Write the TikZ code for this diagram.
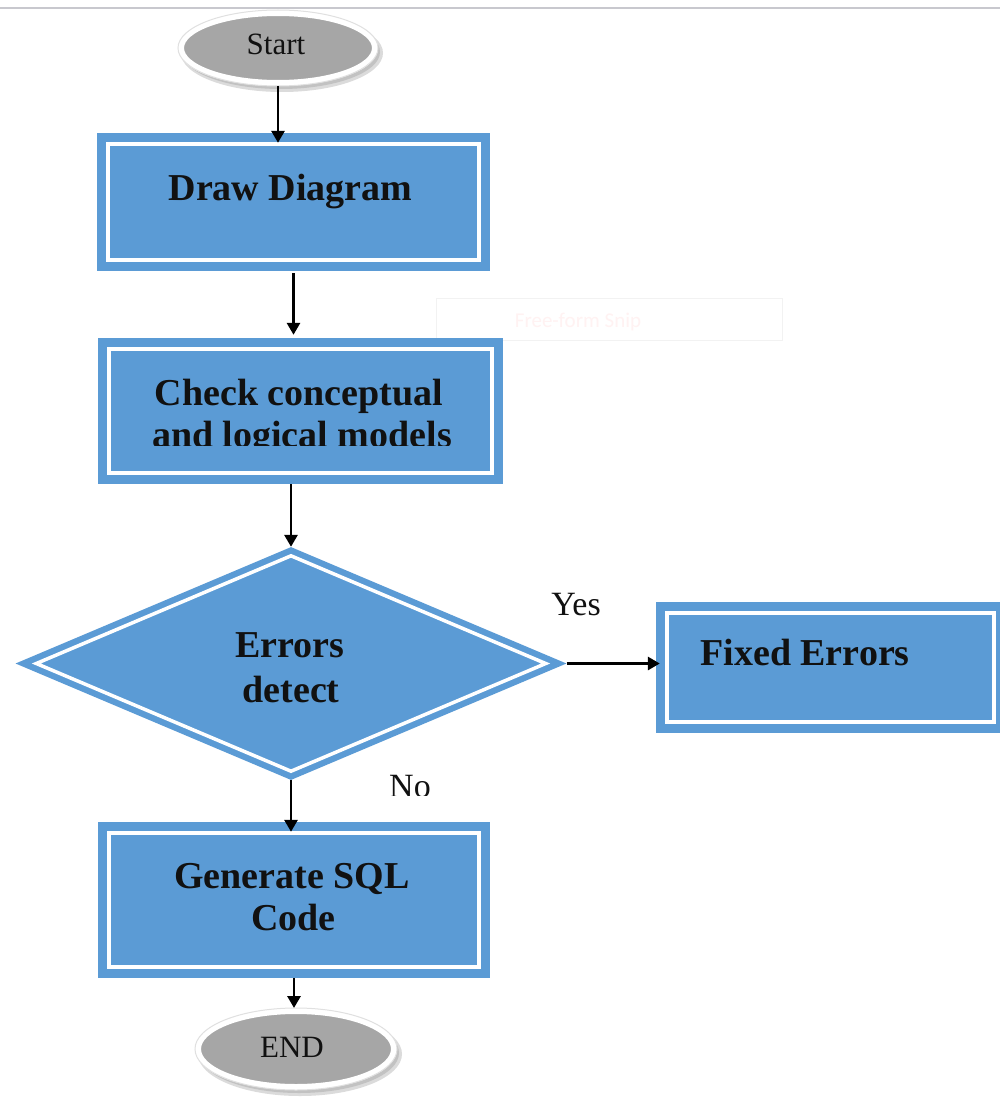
\documentclass[tikz,border=0pt]{standalone}
\usepackage{fontspec}
\setmainfont{Liberation Serif}
\newfontfamily\snipfont{Carlito}
\usetikzlibrary{shapes.geometric,arrows.meta}
\definecolor{boxblue}{HTML}{5B9BD5}
\definecolor{ovalgrey}{HTML}{A6A6A6}
\definecolor{inkc}{HTML}{111111}
\definecolor{topline}{HTML}{C8C8CE}
\begin{document}
\begin{tikzpicture}[x=1pt,y=-1pt,
  boxst/.style={rectangle, fill=boxblue, draw=none, inner sep=0pt,
    path picture={\draw[white,line width=3.5pt]
      ([shift={(11pt,-11pt)}]path picture bounding box.north west) rectangle
      ([shift={(-11pt,11pt)}]path picture bounding box.south east);}},
  ovalst/.style={ellipse, fill=ovalgrey, draw=white, line width=6pt, inner sep=0pt},
  shadowst/.style={fill=black!14},
  shadowst2/.style={fill=black!24},
  rimst/.style={draw=black!12, line width=1pt},
  btext/.style={anchor=base, font=\fontsize{38}{42}\selectfont\bfseries, text=inkc, inner sep=0pt},
  rtext/.style={anchor=base, font=\fontsize{34}{38}\selectfont, text=inkc, inner sep=0pt},
  otext/.style={anchor=base, font=\fontsize{31}{34}\selectfont, text=inkc, inner sep=0pt},
  arr/.style={-{Triangle[length=12pt,width=13pt]}, line width=2.9pt, black},
]
\path[use as bounding box, clip] (0,0) rectangle (1000,1097);
\fill[white] (0,0) rectangle (1000,1097);
\draw[topline, line width=2pt] (0,8) -- (1000,8);

% faint screenshot overlay
\node[draw=black!5, line width=1pt, minimum width=346pt, minimum height=42pt, inner sep=0pt] (snip) at (609,319) {};
\node[anchor=base, inner sep=0pt, font=\snipfont\fontsize{21}{23}\selectfont, text=red!5] (sniptext) at (578,327) {Free-form Snip};

% oval shadows
\coordinate (sc) at (278,48);
\coordinate (ec) at (296,1049);
\fill[shadowst] ([shift={(4pt,-5pt)}]sc) ellipse [x radius=101pt, y radius=39pt];
\fill[shadowst2] ([shift={(3pt,-4pt)}]sc) ellipse [x radius=99pt, y radius=37pt];
\fill[shadowst] ([shift={(4pt,-5pt)}]ec) ellipse [x radius=102pt, y radius=42pt];
\fill[shadowst2] ([shift={(3pt,-4pt)}]ec) ellipse [x radius=100pt, y radius=40pt];

% shapes
\node[ovalst, minimum width=194pt, minimum height=70pt] (s) at (sc) {};
\draw[rimst] (s.center) ellipse [x radius=100pt, y radius=38pt];
\node[boxst, minimum width=393pt, minimum height=138pt] (dd) at (293.5,202) {};
\node[boxst, minimum width=405pt, minimum height=146pt] (cc) at (300.5,411) {};
\node[shape=diamond, fill=boxblue, inner sep=0pt, minimum width=551pt, minimum height=233pt] (de) at (291,663.5) {};
\draw[white, line width=3.5pt] ([xshift=21pt]de.west) -- ([yshift=-9pt]de.north) -- ([xshift=-21pt]de.east) -- ([yshift=9pt]de.south) -- cycle;
\node[boxst, minimum width=349pt, minimum height=131pt] (fe) at (830.5,667.5) {};
\node[boxst, minimum width=392pt, minimum height=156pt] (gs) at (294,900) {};
\node[ovalst, minimum width=196pt, minimum height=76pt] (en) at (ec) {};
\draw[rimst] (en.center) ellipse [x radius=101pt, y radius=41pt];

% texts
\node[otext] (st) at (276,55) {Start};
\node[btext] (t1) at (290.5,200) {Draw Diagram};
\node[btext] (t2a) at (299,405) {Check conceptual};
\begin{scope}
  \clip (98,338) rectangle (503,445);
  \node[btext] (t2b) at (302,447) {and logical models};
\end{scope}
\node[btext] (t3a) at (290,657) {Errors};
\node[btext] (t3b) at (291,702) {detect};
\node[btext] (t4) at (805,665) {Fixed Errors};
\node[btext] (t5a) at (292,888) {Generate SQL};
\node[btext] (t5b) at (293.5,930) {Code};
\node[otext] (et) at (292,1057) {END};
\node[rtext] (yes) at (576,615) {Yes};
\begin{scope}
  \clip (350,760) rectangle (470,795);
  \node[rtext] (no) at (410,797) {No};
\end{scope}

% connectors
\draw[arr, shorten >=-10pt] (s.south) -- (s.south |- dd.north);
\draw[arr, shorten <=2pt, shorten >=3pt] (dd.south) -- (dd.south |- cc.north);
\draw[arr] (de.north |- cc.south) -- (de.north);
\draw[arr, shorten >=-4pt] (de.east) -- (fe.west |- de.east);
\draw[arr, shorten >=-10pt] (de.south) -- (de.south |- gs.north);
\draw[arr] (gs.south) -- (gs.south |- en.north);
\end{tikzpicture}
\end{document}
